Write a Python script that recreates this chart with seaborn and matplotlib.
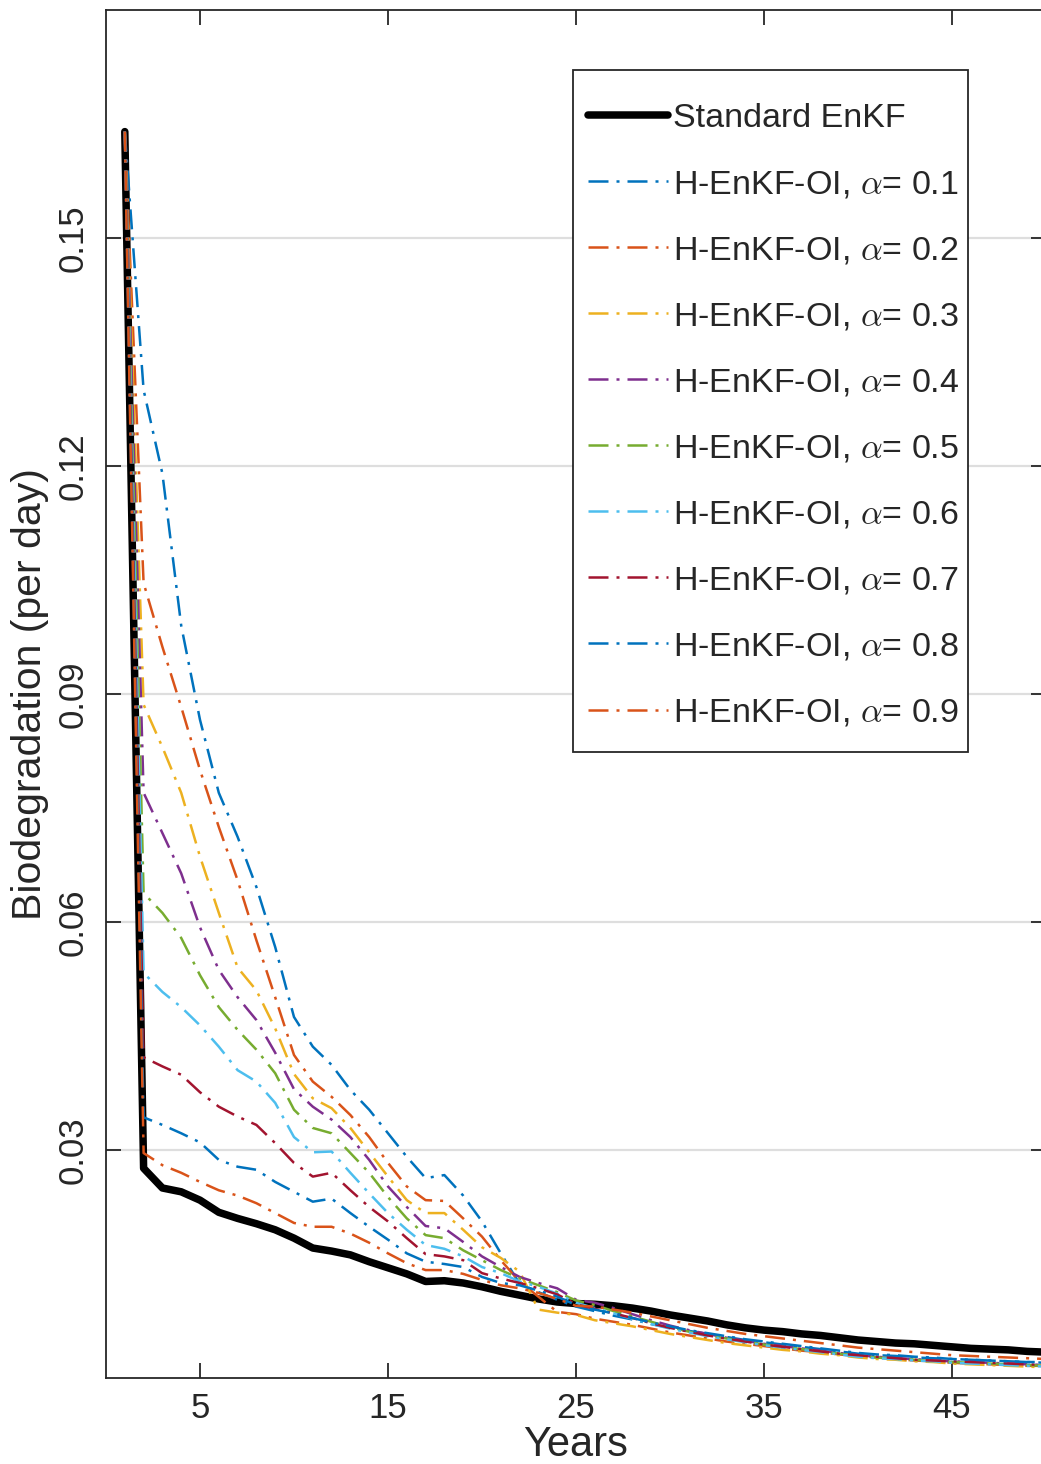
import matplotlib
matplotlib.use("Agg")
import matplotlib.pyplot as plt
from matplotlib.patches import Rectangle
import seaborn as sns
import pandas as pd

# years 1..50
years = list(range(1, 51))

standard_enkf = [
    0.164, 0.0276, 0.0250, 0.0245, 0.0234, 0.0218, 0.0210, 0.0203, 0.0195, 0.0184,
    0.0171, 0.0167, 0.0162, 0.0153, 0.0145, 0.0137, 0.0127, 0.0128, 0.0125, 0.0120,
    0.0114, 0.0109, 0.0104, 0.0100, 0.0098, 0.0097, 0.0095, 0.0092, 0.0088, 0.0083,
    0.0079, 0.0075, 0.0070, 0.0066, 0.0063, 0.0061, 0.0058, 0.0056, 0.0053, 0.0050,
    0.0048, 0.0046, 0.0045, 0.0043, 0.0041, 0.0039, 0.0038, 0.0037, 0.0035, 0.0034,
]

alpha_01 = [
    0.164, 0.130, 0.119, 0.099, 0.0866, 0.077, 0.0712, 0.0646, 0.0567, 0.0475,
    0.0436, 0.0412, 0.0379, 0.0353, 0.0322, 0.0291, 0.0263, 0.0267, 0.0240, 0.0206,
    0.0164, 0.0124, 0.0113, 0.0103, 0.0094, 0.0088, 0.0082, 0.0077, 0.0071, 0.0066,
    0.0062, 0.0058, 0.0054, 0.0050, 0.0047, 0.0044, 0.0041, 0.0038, 0.0035, 0.0032,
    0.0030, 0.0029, 0.0027, 0.0026, 0.0025, 0.0024, 0.0023, 0.0022, 0.0021, 0.0020,
]
alpha_02 = [
    0.164, 0.1046, 0.0962, 0.0883, 0.0800, 0.0725, 0.0655, 0.0576, 0.0501, 0.0425,
    0.0390, 0.0370, 0.0346, 0.0317, 0.0283, 0.0252, 0.0234, 0.0233, 0.0210, 0.0186,
    0.0155, 0.0127, 0.0107, 0.0087, 0.0084, 0.0078, 0.0074, 0.0070, 0.0065, 0.0060,
    0.0056, 0.0052, 0.0048, 0.0045, 0.0042, 0.0039, 0.0036, 0.0034, 0.0031, 0.0029,
    0.0027, 0.0025, 0.0023, 0.0022, 0.0020, 0.0019, 0.0018, 0.0017, 0.0016, 0.0016,
]
alpha_03 = [
    0.164, 0.0886, 0.0830, 0.0770, 0.0686, 0.0612, 0.0540, 0.0510, 0.0460, 0.0400,
    0.0368, 0.0355, 0.0329, 0.0297, 0.0265, 0.0234, 0.0217, 0.0217, 0.0195, 0.0172,
    0.0158, 0.0140, 0.0090, 0.0086, 0.0083, 0.0076, 0.0072, 0.0068, 0.0063, 0.0058,
    0.0054, 0.0050, 0.0046, 0.0043, 0.0040, 0.0037, 0.0035, 0.0032, 0.0030, 0.0027,
    0.0025, 0.0024, 0.0022, 0.0021, 0.0019, 0.0018, 0.0017, 0.0016, 0.0015, 0.0014,
]
alpha_04 = [
    0.164, 0.0770, 0.0717, 0.0664, 0.0593, 0.0537, 0.0501, 0.0471, 0.0428, 0.0380,
    0.0357, 0.0340, 0.0317, 0.0287, 0.0252, 0.0225, 0.0200, 0.0197, 0.0179, 0.0160,
    0.0146, 0.0133, 0.0125, 0.0118, 0.0103, 0.0099, 0.0092, 0.0084, 0.0076, 0.0069,
    0.0063, 0.0058, 0.0053, 0.0049, 0.0045, 0.0042, 0.0039, 0.0036, 0.0033, 0.0030,
    0.0028, 0.0026, 0.0025, 0.0023, 0.0022, 0.0021, 0.0020, 0.0019, 0.0018, 0.0017,
]
alpha_05 = [
    0.164, 0.0638, 0.0612, 0.0579, 0.0530, 0.0488, 0.0458, 0.0432, 0.0401, 0.0353,
    0.0329, 0.0322, 0.0296, 0.0270, 0.0238, 0.0210, 0.0188, 0.0184, 0.0168, 0.0155,
    0.0142, 0.0131, 0.0122, 0.0113, 0.0102, 0.0096, 0.0088, 0.0081, 0.0074, 0.0067,
    0.0061, 0.0056, 0.0052, 0.0048, 0.0044, 0.0041, 0.0038, 0.0035, 0.0032, 0.0029,
    0.0027, 0.0025, 0.0024, 0.0022, 0.0021, 0.0020, 0.0019, 0.0018, 0.0017, 0.0016,
]
alpha_06 = [
    0.164, 0.0533, 0.0508, 0.0488, 0.0464, 0.0436, 0.0405, 0.0390, 0.0362, 0.0317,
    0.0297, 0.0298, 0.0270, 0.0243, 0.0217, 0.0195, 0.0175, 0.0170, 0.0160, 0.0146,
    0.0138, 0.0127, 0.0120, 0.0111, 0.0099, 0.0092, 0.0085, 0.0078, 0.0071, 0.0065,
    0.0060, 0.0055, 0.0051, 0.0047, 0.0043, 0.0040, 0.0037, 0.0034, 0.0031, 0.0028,
    0.0026, 0.0025, 0.0023, 0.0022, 0.0020, 0.0019, 0.0018, 0.0017, 0.0016, 0.0015,
]
alpha_07 = [
    0.164, 0.0422, 0.0410, 0.0399, 0.0376, 0.0357, 0.0344, 0.0333, 0.0309, 0.0283,
    0.0265, 0.0270, 0.0247, 0.0225, 0.0206, 0.0184, 0.0163, 0.0160, 0.0155, 0.0138,
    0.0131, 0.0125, 0.0118, 0.0110, 0.0097, 0.0091, 0.0085, 0.0079, 0.0072, 0.0066,
    0.0061, 0.0056, 0.0052, 0.0048, 0.0044, 0.0041, 0.0038, 0.0035, 0.0032, 0.0030,
    0.0028, 0.0026, 0.0024, 0.0023, 0.0022, 0.0021, 0.0020, 0.0019, 0.0018, 0.0017,
]
alpha_08 = [
    0.164, 0.0343, 0.0333, 0.0322, 0.0310, 0.0287, 0.0278, 0.0274, 0.0258, 0.0245,
    0.0232, 0.0236, 0.0217, 0.0199, 0.0182, 0.0164, 0.0153, 0.0150, 0.0146, 0.0133,
    0.0125, 0.0122, 0.0115, 0.0107, 0.0096, 0.0090, 0.0085, 0.0079, 0.0073, 0.0068,
    0.0063, 0.0059, 0.0055, 0.0051, 0.0048, 0.0045, 0.0042, 0.0039, 0.0036, 0.0033,
    0.0031, 0.0030, 0.0028, 0.0027, 0.0025, 0.0024, 0.0023, 0.0022, 0.0021, 0.0021,
]
alpha_09 = [
    0.164, 0.0296, 0.0280, 0.0270, 0.0258, 0.0247, 0.0240, 0.0230, 0.0217, 0.0204,
    0.0199, 0.0199, 0.0190, 0.0178, 0.0164, 0.0151, 0.0142, 0.0142, 0.0137, 0.0129,
    0.0122, 0.0118, 0.0112, 0.0104, 0.0095, 0.0094, 0.0090, 0.0086, 0.0081, 0.0076,
    0.0071, 0.0066, 0.0062, 0.0058, 0.0055, 0.0052, 0.0049, 0.0046, 0.0043, 0.0040,
    0.0038, 0.0036, 0.0034, 0.0032, 0.0030, 0.0029, 0.0028, 0.0027, 0.0026, 0.0025,
]

alphas = ["0.1", "0.2", "0.3", "0.4", "0.5", "0.6", "0.7", "0.8", "0.9"]
alpha_series = [alpha_01, alpha_02, alpha_03, alpha_04, alpha_05,
                alpha_06, alpha_07, alpha_08, alpha_09]
# matlab default line colours, cycling after seven
colors = ["#0072BD", "#D95319", "#EDB120", "#7E2F8E", "#77AC30",
          "#4DBEEE", "#A2142F", "#0072BD", "#D95319"]

sns.set_style("ticks")
plt.rcParams["font.family"] = ["Liberation Sans", "DejaVu Sans"]
plt.rcParams["mathtext.fontset"] = "cm"

W, H = 1041, 1464
fig = plt.figure(figsize=(W / 100, H / 100), dpi=100)
ax = fig.add_axes([106 / W, 1 - 1378 / H, 940 / W, 1368 / H])

dashdot = (0, (8, 3.2, 1.2, 3.2))

df = pd.DataFrame({"Years": years, "value": standard_enkf})
sns.lineplot(data=df, x="Years", y="value", ax=ax, color="black",
             linewidth=5.4, label="Standard EnKF", zorder=3)

for a, vals, c in zip(alphas, alpha_series, colors):
    d = pd.DataFrame({"Years": years, "value": vals})
    sns.lineplot(data=d, x="Years", y="value", ax=ax, color=c,
                 linewidth=1.8, linestyle=dashdot,
                 label=r"H-EnKF-OI, $\alpha$= " + a, zorder=4)

ax.set_xlim(0, 50)
ax.set_ylim(0, 0.18)
ax.set_xticks([5, 15, 25, 35, 45])
ax.set_yticks([0.03, 0.06, 0.09, 0.12, 0.15])
ax.set_yticklabels(["0.03", "0.06", "0.09", "0.12", "0.15"],
                   rotation=90, va="center")
ax.yaxis.grid(True, color="#dedede", linewidth=1.6)
ax.xaxis.grid(False)
ax.set_axisbelow(True)

ax.tick_params(direction="in", length=11, width=1.3, labelsize=25,
               top=True, right=True, colors="#262626", labelcolor="#262626")
ax.tick_params(axis="x", pad=10)
ax.tick_params(axis="y", pad=12)
for s in ax.spines.values():
    s.set_visible(True)
    s.set_linewidth(1.3)
    s.set_color("#262626")

ax.set_xlabel("Years", fontsize=30, color="#262626", labelpad=0)
ax.set_ylabel("Biodegradation (per day)", fontsize=29.5, color="#262626", labelpad=5)

# legend box drawn separately so the padding can differ on each side
box = Rectangle((573 / W, 1 - 752 / H), (968 - 573) / W, (752 - 70) / H,
                transform=fig.transFigure, facecolor="white",
                edgecolor="#262626", linewidth=1.3, zorder=9)
fig.patches.append(box)

leg = ax.legend(loc="upper left", bbox_to_anchor=(588 / W, 1 - 103 / H),
                bbox_transform=fig.transFigure, borderaxespad=0, borderpad=0,
                fontsize=24.5, frameon=False, handlelength=2.35,
                handletextpad=0.15, labelspacing=1.03)
leg.set_zorder(10)
leg.remove()
fig.legends.append(leg)

fig.savefig("out.png", dpi=100)
